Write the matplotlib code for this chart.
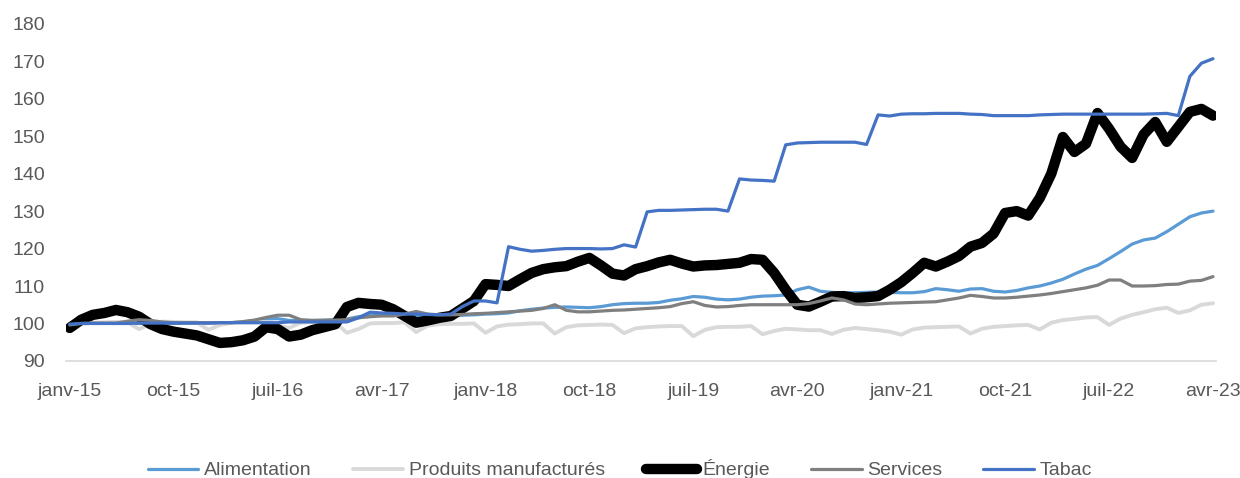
import numpy as np
import pandas as pd
import matplotlib
matplotlib.use("Agg")
import matplotlib.pyplot as plt

# mois de janv-15 à avr-23
months = pd.date_range("2015-01-01", "2023-04-01", freq="MS")
mois_fr = ["janv", "févr", "mars", "avr", "mai", "juin",
           "juil", "août", "sept", "oct", "nov", "déc"]
labels = [f"{mois_fr[d.month - 1]}-{d.strftime('%y')}" for d in months]

alimentation = [
    100.0, 100.0, 100.0, 100.0, 100.0, 100.0, 100.0, 100.0, 100.0, 100.0,
    100.1, 100.1, 100.1, 100.2, 100.2, 100.4, 100.8, 101.2, 101.3, 100.8,
    100.8, 100.8, 100.9, 101.0, 101.2, 101.8, 102.2, 102.3, 102.3, 102.2,
    102.0, 101.9, 101.9, 102.0, 102.2, 102.3, 102.5, 102.6, 102.8, 103.4,
    103.8, 104.1, 104.3, 104.4, 104.3, 104.2, 104.5, 105.0, 105.3, 105.4,
    105.4, 105.6, 106.2, 106.6, 107.2, 107.0, 106.5, 106.3, 106.5, 107.0,
    107.3, 107.4, 107.6, 109.0, 109.7, 108.6, 108.3, 108.2, 108.2, 108.3,
    108.4, 108.3, 108.2, 108.2, 108.5, 109.3, 109.0, 108.6, 109.2, 109.3,
    108.6, 108.4, 108.8, 109.5, 110.0, 110.8, 111.8, 113.2, 114.5, 115.5,
    117.3, 119.2, 121.2, 122.3, 122.8, 124.5, 126.5, 128.5, 129.5, 130.0,
]

produits = [
    99.4, 99.9, 100.2, 100.3, 100.4, 100.3, 98.5, 99.8, 100.5, 100.4,
    100.3, 100.3, 98.3, 99.6, 100.2, 100.3, 100.3, 100.4, 99.5, 98.8,
    100.2, 100.4, 100.4, 100.3, 97.5, 98.5, 100.0, 100.1, 100.1, 100.3,
    97.7, 99.4, 99.8, 99.9, 99.9, 100.0, 97.5, 99.2, 99.7, 99.8,
    100.0, 100.0, 97.3, 99.0, 99.5, 99.6, 99.7, 99.6, 97.4, 98.7,
    99.0, 99.2, 99.3, 99.3, 96.6, 98.3, 99.0, 99.1, 99.1, 99.3,
    97.1, 98.0, 98.6, 98.4, 98.2, 98.2, 97.2, 98.3, 98.8, 98.5,
    98.2, 97.8, 97.0, 98.4, 98.9, 99.0, 99.1, 99.2, 97.3, 98.6,
    99.1, 99.3, 99.5, 99.6, 98.4, 100.2, 100.9, 101.2, 101.6, 101.7,
    99.6, 101.3, 102.3, 103.0, 103.8, 104.2, 102.8, 103.5, 105.0, 105.4,
]

energie = [
    98.8, 101.0, 102.3, 102.8, 103.6, 103.0, 101.8, 99.8, 98.5, 97.8,
    97.3, 96.8, 95.8, 94.8, 95.0, 95.5, 96.5, 99.0, 98.5, 96.5,
    97.0, 98.2, 99.0, 99.8, 104.4, 105.5, 105.2, 105.0, 103.8, 102.0,
    100.2, 100.8, 101.5, 102.0, 104.0, 106.0, 110.5, 110.3, 110.0, 111.8,
    113.5, 114.5, 115.0, 115.3, 116.5, 117.5, 115.5, 113.3, 112.8, 114.5,
    115.3, 116.3, 117.0, 116.0, 115.2, 115.5, 115.6, 115.9, 116.2, 117.2,
    117.0, 113.5, 109.0, 105.0, 104.5, 105.8, 107.2, 107.3, 106.8, 107.0,
    107.3, 109.0, 111.0, 113.5, 116.2, 115.2, 116.5, 118.0, 120.5, 121.5,
    124.0, 129.5, 130.0, 128.8, 133.5, 140.0, 149.8, 145.8, 148.0, 156.2,
    152.0, 147.2, 144.2, 150.5, 153.8, 148.5, 152.5, 156.5, 157.3, 155.5,
]

services = [
    99.6, 100.0, 100.1, 100.1, 100.1, 100.6, 101.0, 100.8, 100.4, 100.2,
    100.2, 100.2, 100.2, 100.2, 100.2, 100.5, 100.9, 101.6, 102.2, 102.2,
    101.0, 100.8, 100.8, 100.9, 101.0, 101.5, 101.8, 102.0, 102.0, 102.5,
    103.2, 102.5, 102.3, 102.3, 102.4, 102.6, 102.7, 102.9, 103.1, 103.3,
    103.5, 104.0, 105.0, 103.5, 103.1, 103.1, 103.3, 103.5, 103.6, 103.8,
    104.0, 104.2, 104.5, 105.3, 105.8, 104.8, 104.4, 104.5, 104.8, 105.0,
    105.0, 105.0, 105.0, 105.0, 105.3, 106.0, 106.8, 106.3, 105.2, 105.0,
    105.2, 105.4, 105.5, 105.6, 105.7, 105.8, 106.3, 106.8, 107.5, 107.2,
    106.8, 106.8, 107.0, 107.3, 107.6, 108.0, 108.5, 109.0, 109.5, 110.2,
    111.6, 111.6, 110.0, 110.0, 110.1, 110.4, 110.5, 111.3, 111.5, 112.5,
]

tabac = [
    99.8, 100.0, 100.0, 100.0, 100.0, 100.0, 100.1, 100.1, 100.1, 100.1,
    100.1, 100.1, 100.1, 100.2, 100.2, 100.2, 100.2, 100.2, 100.2, 100.4,
    100.4, 100.4, 100.4, 100.4, 100.4, 101.5, 103.0, 102.8, 102.7, 102.5,
    102.5, 102.4, 102.3, 102.5, 104.5, 106.0, 106.0, 105.5, 120.5, 119.8,
    119.3, 119.5, 119.8, 120.0, 120.0, 120.0, 119.9, 120.0, 121.0, 120.4,
    129.8, 130.2, 130.2, 130.3, 130.4, 130.5, 130.5, 130.0, 138.6, 138.3,
    138.2, 138.0, 147.7, 148.2, 148.3, 148.4, 148.4, 148.4, 148.4, 147.8,
    155.7, 155.4, 155.9, 156.0, 156.0, 156.1, 156.1, 156.1, 155.9, 155.8,
    155.5, 155.5, 155.5, 155.5, 155.7, 155.8, 155.9, 155.9, 155.9, 155.9,
    155.9, 155.9, 155.9, 155.9, 156.0, 156.1, 155.5, 166.0, 169.5, 170.7,
]

series = [
    ("Alimentation", alimentation, "#5B9BD5", 2.3),
    ("Produits manufacturés", produits, "#D9D9D9", 2.8),
    ("Énergie", energie, "#000000", 7.5),
    ("Services", services, "#7F7F7F", 2.3),
    ("Tabac", tabac, "#4472C4", 2.3),
]

plt.rcParams['font.family'] = ['Liberation Sans', 'DejaVu Sans']
text_color = "#595959"

fig = plt.figure(figsize=(12.4, 4.78), dpi=100)
ax = fig.add_axes([0.053, 0.245, 0.928, 0.705])

x = np.arange(len(months))
for name, values, color, lw in series:
    ax.plot(x, values, color=color, linewidth=lw, label=name,
            solid_joinstyle="round", solid_capstyle="round")

ax.set_ylim(90, 180)
ax.set_yticks(np.arange(90, 181, 10))
ax.set_xlim(-0.35, 99.3)
tick_pos = x[::9]
ax.set_xticks(tick_pos)
ax.set_xticklabels([labels[i] for i in tick_pos])

for side in ["top", "right", "left"]:
    ax.spines[side].set_visible(False)
ax.spines["bottom"].set_color("#D9D9D9")
ax.spines["bottom"].set_linewidth(1.2)
ax.tick_params(axis="both", length=0, labelsize=14, colors=text_color)
ax.tick_params(axis="x", pad=16)
ax.tick_params(axis="y", pad=15)

fig.legend(loc="center", bbox_to_anchor=(0.5, 0.018), ncol=5, frameon=False,
           fontsize=14, labelcolor=text_color, handlelength=2.6,
           handletextpad=0.3, columnspacing=2.1)

fig.savefig("out.png", dpi=100)
